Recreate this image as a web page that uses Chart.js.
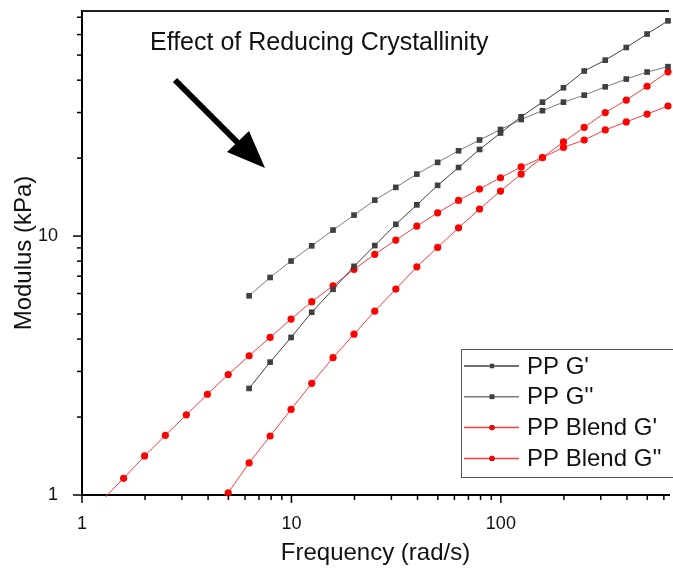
<!DOCTYPE html>
<html>
<head>
<meta charset="utf-8">
<script src="https://cdn.jsdelivr.net/npm/chart.js@4"></script>
<style>
  html, body { margin: 0; padding: 0; background: #fff; }
  #wrap { width: 673px; height: 571px; }
</style>
</head>
<body>
<div id="wrap"><canvas id="modulusChart" width="673" height="571"></canvas></div>
<script>
// frequencies (rad/s), shared by all four sweeps
const freqs = [1.25, 1.58, 1.99, 2.50, 3.15, 3.97, 4.99, 6.28, 7.91, 9.96,
  12.5, 15.8, 19.9, 25.0, 31.5, 39.7, 49.9, 62.8, 79.1, 99.6,
  125, 158, 199, 250, 315, 397, 499, 628];

// moduli in kPa, null where the sweep has no point
const ppStorage = [null, null, null, null, null, null, null,
  2.58, 3.26, 4.06, 5.08, 6.23, 7.64, 9.19, 11.1, 13.2, 15.7, 18.4, 21.6, 25.0,
  28.9, 32.9, 37.4, 43.4, 47.8, 53.5, 60.3, 67.8];
const ppLoss = [null, null, null, null, null, null, null,
  5.88, 6.92, 8.01, 9.17, 10.55, 12.05, 13.77, 15.42, 17.35, 19.26, 21.35, 23.5, 25.8,
  28.2, 30.5, 32.9, 35.0, 37.7, 40.4, 43.0, 45.1];
const blendStorage = [null, null, null, null, null, null,
  1.02, 1.33, 1.69, 2.14, 2.70, 3.39, 4.18, 5.13, 6.24, 7.61, 9.04, 10.76, 12.72, 14.92,
  17.35, 20.1, 23.1, 26.3, 30.0, 33.5, 37.9, 43.1];
const blendLoss = [0.955, 1.16, 1.415, 1.70, 2.04, 2.45, 2.92, 3.45, 4.06, 4.78,
  5.58, 6.43, 7.44, 8.50, 9.65, 10.93, 12.3, 13.73, 15.19, 16.8,
  18.5, 20.1, 22.0, 23.5, 25.7, 27.6, 29.6, 31.8];

const seriesLabels = ["PP G'", "PP G''", "PP Blend G'", "PP Blend G''"];
const xTickLabels = [1, 10, 100];
const yTickLabels = [1, 10];

function toPoints(values) {
  return values
    .map((v, i) => ({ x: freqs[i], y: v }))
    .filter(p => p.y !== null);
}

const fontName = "'Liberation Sans', Arial, sans-serif";

function isNice(v) {
  const e = Math.floor(Math.log10(v) + 1e-9);
  const s = v / Math.pow(10, e);
  return Math.abs(s - Math.round(s)) < 1e-6;
}
function isDecade(v) {
  const e = Math.round(Math.log10(v));
  return Math.abs(v - Math.pow(10, e)) < 1e-6 * v;
}

// outward tick marks, long at decades and short in between
const tickMarks = {
  id: 'tickMarks',
  afterDraw(chart) {
    const ctx = chart.ctx;
    const area = chart.chartArea;
    ctx.save();
    ctx.strokeStyle = '#000';
    ctx.lineWidth = 1.5;
    chart.scales.x.ticks.forEach(t => {
      if (!isNice(t.value)) return;
      const len = isDecade(t.value) ? 8 : 5;
      const px = chart.scales.x.getPixelForValue(t.value);
      ctx.beginPath();
      ctx.moveTo(px, area.bottom);
      ctx.lineTo(px, area.bottom + len);
      ctx.stroke();
    });
    chart.scales.y.ticks.forEach(t => {
      if (!isNice(t.value)) return;
      const len = isDecade(t.value) ? 9 : 5;
      const py = chart.scales.y.getPixelForValue(t.value);
      ctx.beginPath();
      ctx.moveTo(area.left, py);
      ctx.lineTo(area.left - len, py);
      ctx.stroke();
    });
    // top frame line
    ctx.lineWidth = 2;
    ctx.strokeStyle = '#222';
    ctx.beginPath();
    ctx.moveTo(area.left, area.top);
    ctx.lineTo(area.right, area.top);
    ctx.stroke();
    ctx.restore();
  }
};

// annotation text and arrow
const annotation = {
  id: 'annotation',
  afterDraw(chart) {
    const ctx = chart.ctx;
    ctx.save();
    ctx.fillStyle = '#111';
    ctx.font = '25px ' + fontName;
    ctx.textBaseline = 'middle';
    ctx.textAlign = 'left';
    ctx.fillText('Effect of Reducing Crystallinity', 150, 43);

    ctx.strokeStyle = '#000';
    ctx.lineWidth = 6;
    ctx.beginPath();
    ctx.moveTo(175, 80);
    ctx.lineTo(242, 147);
    ctx.stroke();
    ctx.fillStyle = '#000';
    ctx.beginPath();
    ctx.moveTo(227, 152);
    ctx.lineTo(249, 131);
    ctx.lineTo(265, 168);
    ctx.closePath();
    ctx.fill();
    ctx.restore();
  }
};

// legend box inside the plot, lower right
const boxLegend = {
  id: 'boxLegend',
  afterDraw(chart) {
    const ctx = chart.ctx;
    ctx.save();
    ctx.fillStyle = '#fff';
    ctx.fillRect(461, 349, 220, 128);
    ctx.strokeStyle = '#555';
    ctx.lineWidth = 1;
    ctx.strokeRect(461.5, 349.5, 220, 128);
    ctx.font = '24px ' + fontName;
    ctx.textBaseline = 'middle';
    ctx.textAlign = 'left';
    chart.data.datasets.forEach((ds, i) => {
      const y = 366 + i * 30.8;
      ctx.strokeStyle = ds.borderColor;
      ctx.lineWidth = 1.5;
      ctx.beginPath();
      ctx.moveTo(464, y);
      ctx.lineTo(519, y);
      ctx.stroke();
      Chart.helpers.drawPoint(ctx, {
        pointStyle: ds.pointStyle,
        radius: ds.pointStyle === 'rect' ? 3.2 : 2.6,
        rotation: 0,
        borderWidth: 0
      }, 492, y);
      ctx.fillStyle = ds.pointBackgroundColor;
      ctx.fill();
      ctx.fillStyle = '#111';
      ctx.fillText(ds.label, 527, y + 1);
    });
    ctx.restore();
  }
};

function noScalePadding(s) {
  s.paddingTop = 0;
  s.paddingBottom = 0;
  s.paddingLeft = 0;
  s.paddingRight = 0;
}

const ctx = document.getElementById('modulusChart').getContext('2d');

const chart = new Chart(ctx, {
  type: 'line',
  data: {
    datasets: [
      {
        label: seriesLabels[0],
        data: toPoints(ppStorage),
        borderColor: '#404040',
        pointBackgroundColor: '#404040',
        pointBorderColor: '#404040',
        pointStyle: 'rect',
        pointRadius: 4,
        pointBorderWidth: 0,
        borderWidth: 1,
      },
      {
        label: seriesLabels[1],
        data: toPoints(ppLoss),
        borderColor: '#7a7a7a',
        pointBackgroundColor: '#404040',
        pointBorderColor: '#404040',
        pointStyle: 'rect',
        pointRadius: 4,
        pointBorderWidth: 0,
        borderWidth: 1,
      },
      {
        label: seriesLabels[2],
        data: toPoints(blendStorage),
        borderColor: '#ff3b3b',
        pointBackgroundColor: '#ff0000',
        pointBorderColor: '#ff0000',
        pointStyle: 'circle',
        pointRadius: 3.6,
        pointBorderWidth: 0,
        borderWidth: 1,
      },
      {
        label: seriesLabels[3],
        data: toPoints(blendLoss),
        borderColor: '#ff3b3b',
        pointBackgroundColor: '#ff0000',
        pointBorderColor: '#ff0000',
        pointStyle: 'circle',
        pointRadius: 3.6,
        pointBorderWidth: 0,
        borderWidth: 1,
      },
    ],
  },
  options: {
    responsive: false,
    devicePixelRatio: 1,
    animation: false,
    clip: { left: 0, top: 6, right: 6, bottom: 2 },
    layout: { padding: { top: 11, right: 0, left: 0, bottom: 0 } },
    plugins: {
      legend: { display: false },
      tooltip: { enabled: false },
    },
    elements: { line: { tension: 0 } },
    scales: {
      x: {
        type: 'logarithmic',
        min: 1,
        max: 635,
        grid: { display: false },
        border: { display: true, color: '#000', width: 2 },
        ticks: {
          autoSkip: false,
          maxRotation: 0,
          padding: 10,
          color: '#111',
          font: { family: fontName, size: 18 },
          callback: v => (xTickLabels.includes(v) ? String(v) : ''),
        },
        title: {
          display: true,
          text: 'Frequency (rad/s)',
          color: '#111',
          font: { family: fontName, size: 24 },
          padding: { top: 0, bottom: 3 },
        },
        afterFit: s => { s.height = 76; noScalePadding(s); },
      },
      y: {
        type: 'logarithmic',
        min: 1,
        max: 74,
        grid: { display: false },
        border: { display: true, color: '#000', width: 2 },
        ticks: {
          autoSkip: false,
          padding: 16,
          color: '#111',
          font: { family: fontName, size: 18 },
          callback: v => (yTickLabels.includes(v) ? String(v) : ''),
        },
        title: {
          display: true,
          text: 'Modulus (kPa)',
          color: '#111',
          font: { family: fontName, size: 24 },
          padding: { top: 10, bottom: 0 },
        },
        afterFit: s => { s.width = 82; noScalePadding(s); },
      },
    },
  },
  plugins: [tickMarks, annotation, boxLegend],
});
</script>
</body>
</html>
